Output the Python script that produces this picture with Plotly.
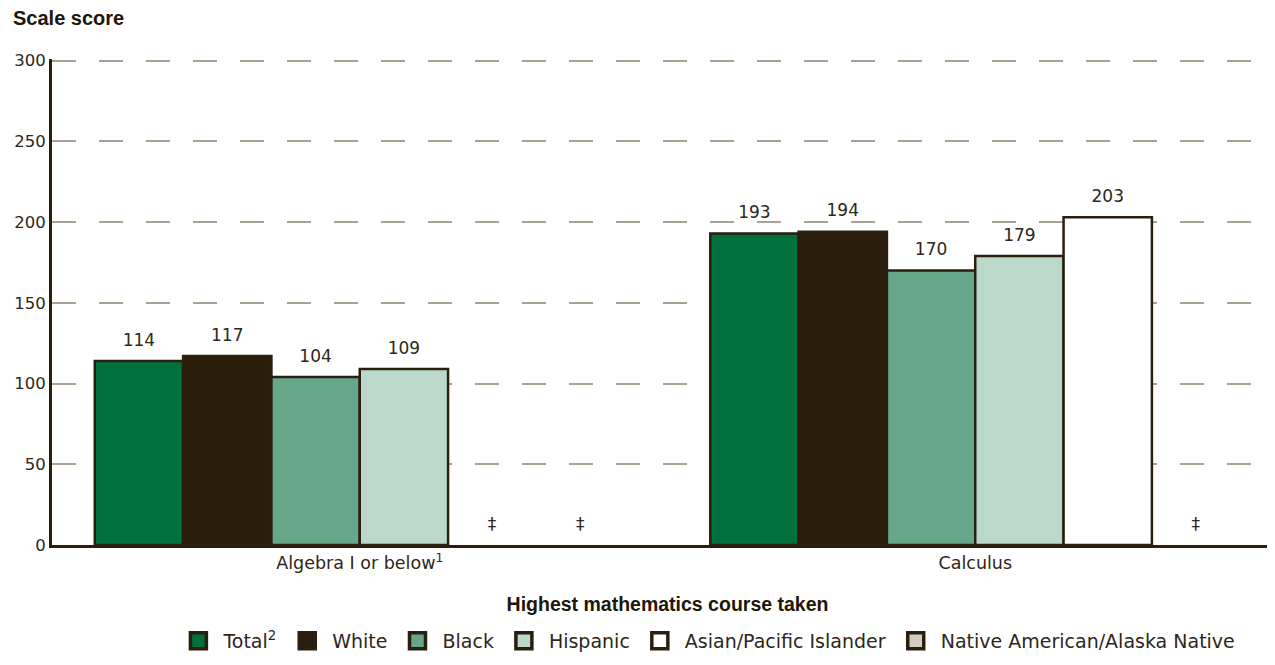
import plotly.graph_objects as go

categories = ["Algebra I or below<sup>1</sup>", "Calculus"]
series_names = ["Total<sup>2</sup>", "White", "Black", "Hispanic",
                "Asian/Pacific Islander", "Native American/Alaska Native"]
total = [114, 193]
white = [117, 194]
black = [104, 170]
hispanic = [109, 179]
asian = [None, 203]
native = [None, None]
series_values = [total, white, black, hispanic, asian, native]
colors = ["#00703C", "#2A1D0B", "#66A68A", "#BBD9CB", "#FFFFFF", "#D1CDC1"]
y_ticks = [0, 50, 100, 150, 200, 250, 300]

OUTLINE = "#2A1F0E"
TEXT = "#2E2618"
BODY_FONT = "DejaVu Sans"
BOLD_FONT = "Liberation Sans"

fig = go.Figure()
for name, vals, col in zip(series_names, series_values, colors):
    yv = [v if v is not None else 0 for v in vals]
    lab = [str(v) if v is not None else "‡" for v in vals]
    # a small blank line lifts the label a little above the bar top
    tx = ["<span style='font-size:17px'>%s</span><br> " % t for t in lab]
    lw = [2.5 if v is not None else 0 for v in vals]
    fig.add_trace(go.Bar(
        x=categories, y=yv, name=name, text=tx,
        textposition="outside", cliponaxis=False,
        textfont=dict(size=8, color=TEXT, family=BODY_FONT),
        marker=dict(color=col, line=dict(color=OUTLINE, width=lw)),
        showlegend=False,
    ))
    fig.add_trace(go.Scatter(
        x=[None], y=[None], mode="markers", name=name,
        marker=dict(symbol="square", size=22, color=col,
                    line=dict(color=OUTLINE, width=3.5)),
        showlegend=True,
    ))

fig.update_layout(
    width=1275, height=665,
    margin=dict(l=44, r=0, t=51, b=128),
    paper_bgcolor="white", plot_bgcolor="white",
    barmode="group", bargap=0.139, bargroupgap=0,
    font=dict(family=BODY_FONT, size=17, color=TEXT),
    legend=dict(orientation="h", x=0.532, xanchor="center", y=-0.1975, yanchor="middle",
                font=dict(size=19, color=TEXT, family=BODY_FONT),
                itemsizing="trace", itemwidth=40, traceorder="normal"),
    xaxis=dict(showgrid=False, showline=True, linecolor=OUTLINE, linewidth=3,
               tickfont=dict(size=17.5, color=TEXT, family=BODY_FONT), ticks="",
               automargin=False,
               title=dict(text="<b>Highest mathematics course taken</b>",
                          font=dict(size=19.5, color="#1E1608", family=BOLD_FONT),
                          standoff=26)),
    yaxis=dict(range=[0, 301], tickvals=y_ticks, showgrid=True, gridcolor="#A9A193",
               griddash="24px,23px", gridwidth=2, zeroline=False, automargin=False,
               showline=True, linecolor=OUTLINE, linewidth=3, ticks="",
               tickfont=dict(size=16.5, color=TEXT, family=BODY_FONT)),
    annotations=[dict(text="<b>Scale score</b>", xref="paper", yref="paper",
                      x=-0.0333, y=1.084, xanchor="left", yanchor="middle", showarrow=False,
                      font=dict(size=20, color="#1E1608", family=BOLD_FONT))],
)

fig.write_html("out.html")
